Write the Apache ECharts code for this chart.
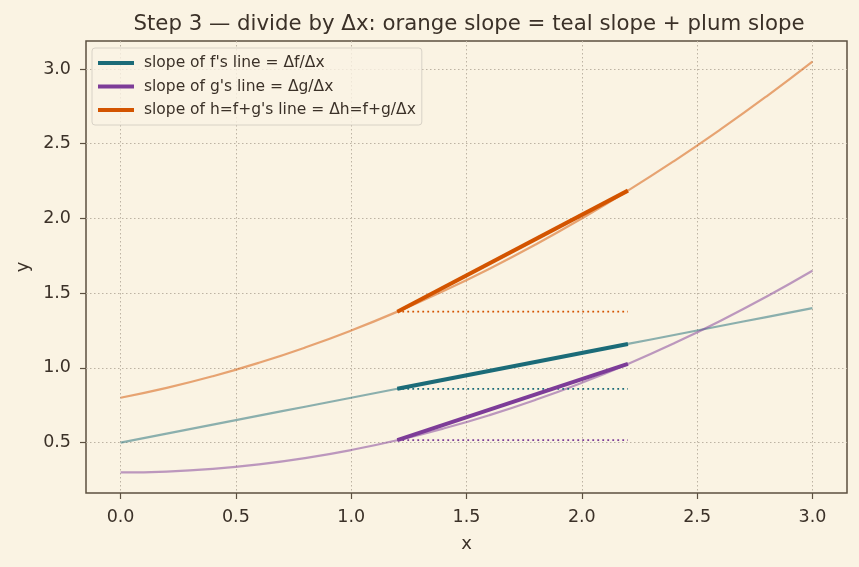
<!DOCTYPE html>
<html>
<head>
<meta charset="utf-8">
<script src="https://cdn.jsdelivr.net/npm/echarts@6/dist/echarts.min.js"></script>
<style>
html,body{margin:0;padding:0;background:#faf3e3;}
#chart{width:859px;height:567px;}
</style>
</head>
<body>
<div id="chart"></div>
<script>
// curve samples
var xs = [0, 0.2, 0.4, 0.6, 0.8, 1.0, 1.2, 1.4, 1.6, 1.8, 2.0, 2.2, 2.4, 2.6, 2.8, 3.0];
var fVals = [0.50, 0.56, 0.62, 0.68, 0.74, 0.80, 0.86, 0.92, 0.98, 1.04, 1.10, 1.16, 1.22, 1.28, 1.34, 1.40];
var gVals = [0.300, 0.306, 0.324, 0.354, 0.396, 0.450, 0.516, 0.594, 0.684, 0.786, 0.900, 1.026, 1.164, 1.314, 1.476, 1.650];
var hVals = [0.800, 0.866, 0.944, 1.034, 1.136, 1.250, 1.376, 1.514, 1.664, 1.826, 2.000, 2.186, 2.384, 2.594, 2.816, 3.050];

// secant endpoints
var secX = [1.2, 2.2];
var fSec = [0.86, 1.16];
var gSec = [0.516, 1.026];
var hSec = [1.376, 2.186];

var xTicks = [0, 0.5, 1, 1.5, 2, 2.5, 3];
var yTicks = [0.5, 1, 1.5, 2, 2.5, 3];

var names = ["slope of f's line = \u0394f/\u0394x", "slope of g's line = \u0394g/\u0394x", "slope of h=f+g's line = \u0394h=f+g/\u0394x"];
var teal = '#1b6b78', plum = '#7d3c98', orange = '#d35400';

function pairs(xa, ya){
	return xa.map(function(x, i){ return [x, ya[i]]; });
}
function curve(vals, color){
	return {type:'line', data:pairs(xs, vals), smooth:true, showSymbol:false, silent:true,
		lineStyle:{color:color, width:2.2, opacity:0.5}, z:1};
}
function secant(name, vals, color){
	return {type:'line', name:name, data:pairs(secX, vals), showSymbol:false, silent:true,
		lineStyle:{color:color, width:4}, itemStyle:{color:color}, z:3};
}
function run(vals, color){
	return {type:'line', data:pairs(secX, [vals[0], vals[0]]), showSymbol:false, silent:true,
		lineStyle:{color:color, width:1.8, type:[1.8, 3.2]}, z:2};
}

var font = 'DejaVu Sans';
var txt = '#3b3128';
var frame = '#5c5040';
var gridLine = {show:true, lineStyle:{color:'#bdb3a3', type:[1.5, 2.5], width:1}};
var fmt = function(v){ return v.toFixed(1); };

var myChart = echarts.init(document.getElementById('chart'), null, {renderer:'canvas'});
myChart.setOption({
	backgroundColor:'#faf3e3',
	animation:false,
	textStyle:{fontFamily:font},
	title:{text:'Step 3 \u2014 divide by \u0394x: orange slope = teal slope + plum slope', left:464, top:9, textAlign:'center',
		textStyle:{fontFamily:font, fontSize:21.3, fontWeight:'normal', color:txt}},
	legend:{left:92, top:48, orient:'vertical', itemWidth:36, itemHeight:4, itemGap:7.5, icon:'rect',
		padding:[7, 6, 7, 6], backgroundColor:'rgba(250,243,227,0.8)', borderColor:'#d8d2c6', borderWidth:1, borderRadius:3,
		formatter:function(n){ return ' ' + n; },
		textStyle:{fontFamily:font, fontSize:15.5, color:txt}, data:names},
	grid:{left:86, right:12, top:41, bottom:74, show:true, borderColor:frame, borderWidth:1.5},
	xAxis:{type:'value', min:-0.15, max:3.15, name:'x', nameLocation:'middle', nameGap:42,
		nameTextStyle:{fontFamily:font, fontSize:18, color:txt},
		axisLine:{show:false, onZero:false},
		axisLabel:{fontFamily:font, fontSize:17.5, color:txt, margin:15, formatter:fmt, customValues:xTicks},
		axisTick:{show:true, length:6, lineStyle:{color:frame, width:1.2}, customValues:xTicks},
		splitLine:gridLine},
	yAxis:{type:'value', min:0.1625, max:3.1875, name:'y', nameLocation:'middle', nameGap:52,
		nameTextStyle:{fontFamily:font, fontSize:18, color:txt},
		axisLine:{show:false, onZero:false},
		axisLabel:{fontFamily:font, fontSize:17.5, color:txt, margin:15, formatter:fmt, customValues:yTicks},
		axisTick:{show:true, length:6, lineStyle:{color:frame, width:1.2}, customValues:yTicks},
		splitLine:gridLine},
	series:[
		curve(fVals, teal), curve(gVals, plum), curve(hVals, orange),
		run(fSec, teal), run(gSec, plum), run(hSec, orange),
		secant(names[0], fSec, teal), secant(names[1], gSec, plum), secant(names[2], hSec, orange)
	]
});
</script>
</body>
</html>
